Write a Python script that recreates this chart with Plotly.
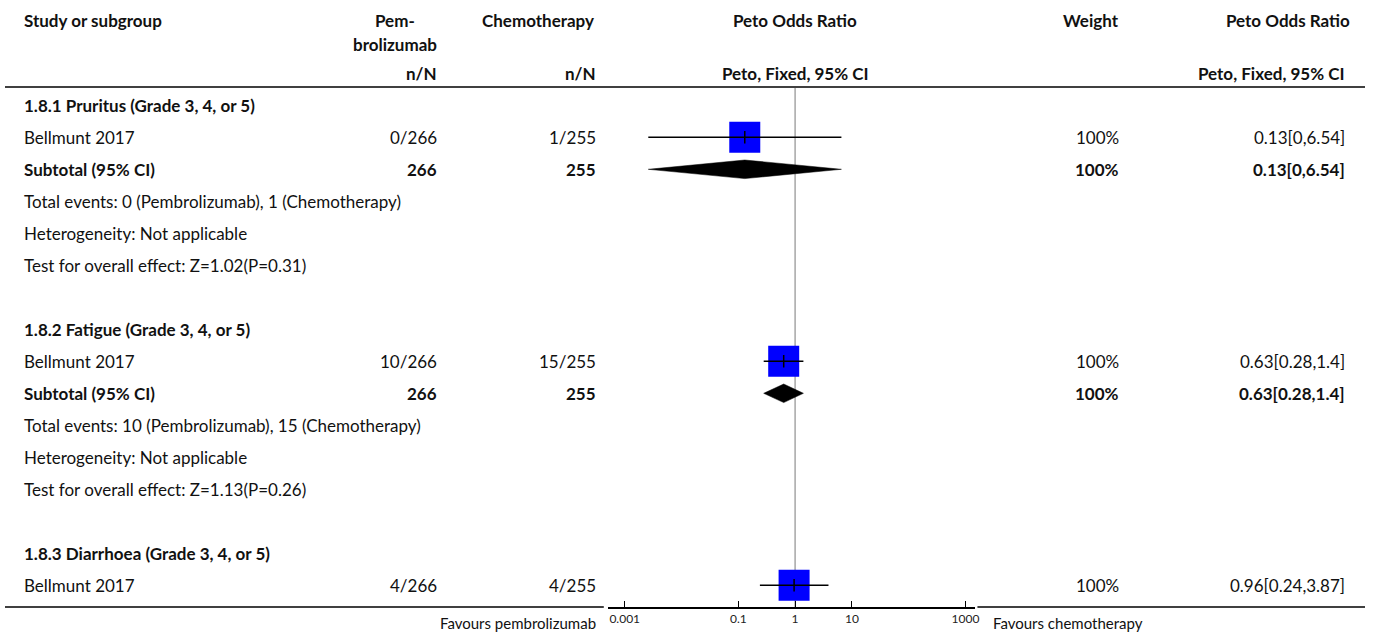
import plotly.graph_objects as go

# ---------------- data ----------------
row_labels = [
    "1.8.1 Pruritus (Grade 3, 4, or 5)", "Bellmunt 2017", "Subtotal (95% CI)",
    "Total events: 0 (Pembrolizumab), 1 (Chemotherapy)", "Heterogeneity: Not applicable",
    "Test for overall effect: Z=1.02(P=0.31)", "",
    "1.8.2 Fatigue (Grade 3, 4, or 5)", "Bellmunt 2017", "Subtotal (95% CI)",
    "Total events: 10 (Pembrolizumab), 15 (Chemotherapy)", "Heterogeneity: Not applicable",
    "Test for overall effect: Z=1.13(P=0.26)", "",
    "1.8.3 Diarrhoea (Grade 3, 4, or 5)", "Bellmunt 2017",
]
row_bold = [True, False, True, False, False, False, False,
            True, False, True, False, False, False, False,
            True, False]
pembro_col = ["", "0/266", "266", "", "", "", "", "", "10/266", "266", "", "", "", "", "", "4/266"]
chemo_col = ["", "1/255", "255", "", "", "", "", "", "15/255", "255", "", "", "", "", "", "4/255"]
weight_col = ["", "100%", "100%", "", "", "", "", "", "100%", "100%", "", "", "", "", "", "100%"]
or_col = ["", "0.13[0,6.54]", "0.13[0,6.54]", "", "", "", "", "", "0.63[0.28,1.4]", "0.63[0.28,1.4]",
          "", "", "", "", "", "0.96[0.24,3.87]"]

# study estimates (row index, OR, lower, upper)
study_rows = [1, 8, 15]
study_or = [0.13, 0.63, 0.96]
study_lo = [0.0026, 0.28, 0.24]
study_hi = [6.54, 1.4, 3.87]

# subtotal estimates
sub_rows = [2, 9]
sub_or = [0.13, 0.63]
sub_lo = [0.0026, 0.28]
sub_hi = [6.54, 1.4]

tick_vals = [0.001, 0.1, 1, 10, 1000]
tick_text = ["0.001", "0.1", "1", "10", "1000"]

# ---------------- layout helpers ----------------
W, H = 1375, 635
ROW0, ROWH = 105.3, 32.0
AXIS_Y = 607
FONT = "Lato, Noto Sans, sans-serif"
FS = 17
TXT = "#111111"


def px(x):
    return x / W


def py(y):
    return 1 - y / H


def rowpix(r):
    return ROW0 + ROWH * r


r_bottom = (AXIS_Y - ROW0) / ROWH
r_top = (0 - ROW0) / ROWH

fig = go.Figure()

# reference line at OR = 1
fig.add_trace(go.Scatter(x=[1, 1], y=[(88 - ROW0) / ROWH, r_bottom], mode="lines",
                         line=dict(color="#a6a6a6", width=1.5), hoverinfo="skip", showlegend=False))

# study boxes
fig.add_trace(go.Scatter(x=study_or, y=study_rows, mode="markers",
                         marker=dict(symbol="square", size=31, color="#0000ff", line=dict(width=0)),
                         hoverinfo="skip", showlegend=False))
# CI lines
ci_x, ci_y = [], []
for r, lo, hi in zip(study_rows, study_lo, study_hi):
    ci_x += [lo, hi, None]
    ci_y += [r, r, None]
fig.add_trace(go.Scatter(x=ci_x, y=ci_y, mode="lines", line=dict(color="black", width=1.5),
                         hoverinfo="skip", showlegend=False))
# point ticks
fig.add_trace(go.Scatter(x=study_or, y=study_rows, mode="markers",
                         marker=dict(symbol="line-ns", size=9, line=dict(color="black", width=1.5)),
                         hoverinfo="skip", showlegend=False))
# diamonds
half_h = 9.3 / ROWH
for r, o, lo, hi in zip(sub_rows, sub_or, sub_lo, sub_hi):
    fig.add_trace(go.Scatter(x=[lo, o, hi, o, lo], y=[r, r - half_h, r, r + half_h, r],
                             mode="lines", fill="toself", fillcolor="black",
                             line=dict(color="black", width=0.5), hoverinfo="skip", showlegend=False))

ann = []


def add_text(x, y, text, anchor="left", bold=False, size=FS, color=TXT):
    ann.append(dict(x=px(x), y=py(y), xref="paper", yref="paper", text=f"<b>{text}</b>" if bold else text,
                    showarrow=False, xanchor=anchor, yanchor="middle",
                    font=dict(family=FONT, size=size, color=color)))


# headers
add_text(22, 21, "Study or subgroup", bold=True)
add_text(396, 21, "Pem-", anchor="center", bold=True)
add_text(396, 45, "brolizumab", anchor="center", bold=True)
add_text(441, 74, "n/N", anchor="right", bold=True)
add_text(540, 21, "Chemotherapy", anchor="center", bold=True)
add_text(600, 74, "n/N", anchor="right", bold=True)
add_text(798, 21, "Peto Odds Ratio", anchor="center", bold=True)
add_text(798, 74, "Peto, Fixed, 95% CI", anchor="center", bold=True)
add_text(1125, 21, "Weight", anchor="right", bold=True)
add_text(1293, 21, "Peto Odds Ratio", anchor="center", bold=True)
add_text(1352, 74, "Peto, Fixed, 95% CI", anchor="right", bold=True)

# rows
for i, lab in enumerate(row_labels):
    y = rowpix(i)
    b = row_bold[i]
    if lab:
        add_text(22, y, lab, bold=b)
    if pembro_col[i]:
        add_text(441, y, pembro_col[i], anchor="right", bold=b)
    if chemo_col[i]:
        add_text(600, y, chemo_col[i], anchor="right", bold=b)
    if weight_col[i]:
        add_text(1125, y, weight_col[i], anchor="right", bold=b)
    if or_col[i]:
        add_text(1352, y, or_col[i], anchor="right", bold=b)

# footer
add_text(600, 623, "Favours pembrolizumab", anchor="right", size=15)
add_text(995, 623, "Favours chemotherapy", anchor="left", size=15)

shapes = [
    dict(type="line", xref="paper", yref="paper", x0=px(5), x1=px(1370), y0=py(87), y1=py(87),
         line=dict(color="black", width=1.5)),
    dict(type="line", xref="paper", yref="paper", x0=px(5), x1=px(606), y0=py(AXIS_Y), y1=py(AXIS_Y),
         line=dict(color="black", width=1.5)),
    dict(type="line", xref="paper", yref="paper", x0=px(981), x1=px(1370), y0=py(AXIS_Y), y1=py(AXIS_Y),
         line=dict(color="black", width=1.5)),
]

# x axis: log, decade = 57 px, value 1 at x = 798
DEC = 57.0
xr = [-3.3, 3.16]
dom = [px(798 + xr[0] * DEC), px(798 + xr[1] * DEC)]

fig.update_layout(
    width=W, height=H, margin=dict(l=0, r=0, t=0, b=0),
    paper_bgcolor="white", plot_bgcolor="rgba(0,0,0,0)",
    xaxis=dict(type="log", range=xr, domain=dom, tickvals=tick_vals, ticktext=tick_text,
               ticks="inside", ticklen=6, tickcolor="black", tickwidth=1,
               showline=True, linecolor="black", linewidth=1.5, showgrid=False, zeroline=False,
               tickfont=dict(family=FONT, size=12, color="#222222"), fixedrange=True),
    yaxis=dict(range=[r_bottom, r_top], domain=[1 - AXIS_Y / H, 1], visible=False,
               showgrid=False, zeroline=False, fixedrange=True),
    annotations=ann, shapes=shapes, showlegend=False,
)

fig.write_html("out.html", config={"displayModeBar": False},
               post_script="document.body.style.margin='0';document.body.style.overflow='hidden';")
